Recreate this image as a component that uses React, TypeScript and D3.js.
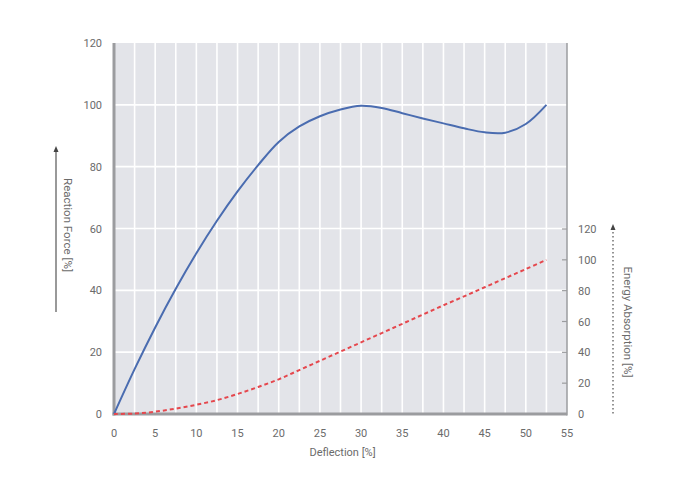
import React, { useEffect, useRef } from 'react';
import * as d3 from 'd3';

// Deflection [%] sample points
const deflection = [0, 2.5, 5, 7.5, 10, 12.5, 15, 17.5, 20, 22.5, 25, 27.5, 30, 32.5, 35, 37.5, 40, 42.5, 45, 47.5, 50, 52.5];
// Reaction Force [%] (left axis)
const reactionForce = [0, 14.5, 28, 40.5, 52, 62.5, 72, 80.5, 88, 93, 96.3, 98.5, 99.7, 99, 97.3, 95.6, 94, 92.4, 91.1, 91, 93.8, 100];
// Energy Absorption [%] (right axis)
const energyAbsorption = [0, 0.3, 1.5, 3.5, 6, 9, 13, 17.5, 22.5, 28.5, 34.5, 40.5, 46.5, 52.5, 58.5, 64.5, 70.5, 76.3, 82.2, 88.1, 94, 100];

const xTicks = [0, 5, 10, 15, 20, 25, 30, 35, 40, 45, 50, 55];
const yLeftTicks = [0, 20, 40, 60, 80, 100, 120];
const yRightTicks = [0, 20, 40, 60, 80, 100, 120];
const xGrid = [2.5, 5, 7.5, 10, 12.5, 15, 17.5, 20, 22.5, 25, 27.5, 30, 32.5, 35, 37.5, 40, 42.5, 45, 47.5, 50, 52.5];

const W = 692;
const H = 503;
const MARGIN = { top: 43, right: 125, bottom: 89, left: 114 };
const FONT = '"Liberation Sans Narrow", "Roboto", sans-serif';

const App = () => {
    const ref = useRef<SVGSVGElement>(null);

    useEffect(() => {
        const svg = d3.select(ref.current);
        svg.selectAll('*').remove();

        const x = d3.scaleLinear().domain([0, 55]).range([MARGIN.left, W - MARGIN.right]);
        const yL = d3.scaleLinear().domain([0, 120]).range([H - MARGIN.bottom, MARGIN.top]);
        const yR = d3.scaleLinear().domain([0, 120]).range([H - MARGIN.bottom, 229]);

        const x0 = x(0), x1 = x(55), y0 = yL(0), y1 = yL(120);

        // plot background
        svg.append('rect')
            .attr('x', x0).attr('y', y1)
            .attr('width', x1 - x0).attr('height', y0 - y1)
            .attr('fill', '#e3e4e9');

        // vertical grid
        svg.append('g').selectAll('line').data(xGrid).enter().append('line')
            .attr('x1', d => x(d)).attr('x2', d => x(d))
            .attr('y1', y1).attr('y2', y0)
            .attr('stroke', '#ffffff').attr('stroke-width', 1.6);

        // horizontal grid
        svg.append('g').selectAll('line').data(yLeftTicks.filter(d => d > 0 && d < 120)).enter().append('line')
            .attr('x1', x0).attr('x2', x1)
            .attr('y1', d => yL(d)).attr('y2', d => yL(d))
            .attr('stroke', '#ffffff').attr('stroke-width', 1.6);

        // axes lines
        svg.append('line').attr('x1', x0).attr('x2', x0).attr('y1', y1).attr('y2', y0 + 1.5)
            .attr('stroke', '#9b9c9f').attr('stroke-width', 3);
        svg.append('line').attr('x1', x0 - 1.5).attr('x2', x1).attr('y1', y0).attr('y2', y0)
            .attr('stroke', '#9b9c9f').attr('stroke-width', 3);
        svg.append('line').attr('x1', x1).attr('x2', x1).attr('y1', y1).attr('y2', y0 + 1.5)
            .attr('stroke', '#9b9c9f').attr('stroke-width', 1.5);

        // right axis inward ticks
        svg.append('g').selectAll('line').data(yRightTicks.filter(d => d > 0)).enter().append('line')
            .attr('x1', x1 - 5).attr('x2', x1)
            .attr('y1', d => yR(d)).attr('y2', d => yR(d))
            .attr('stroke', '#9b9c9f').attr('stroke-width', 1.2);

        const label = (sel: d3.Selection<SVGTextElement, any, any, any>) =>
            sel.attr('font-family', FONT).attr('font-size', 11).attr('fill', '#6b6b6b');

        // x tick labels
        svg.append('g').selectAll('text').data(xTicks).enter().append('text')
            .attr('x', d => x(d)).attr('y', y0 + 23)
            .attr('text-anchor', 'middle')
            .text(d => d)
            .call(label);

        // left tick labels
        svg.append('g').selectAll('text').data(yLeftTicks).enter().append('text')
            .attr('x', x0 - 12).attr('y', d => yL(d) + 4)
            .attr('text-anchor', 'end')
            .text(d => d)
            .call(label);

        // right tick labels
        svg.append('g').selectAll('text').data(yRightTicks).enter().append('text')
            .attr('x', x1 + 11).attr('y', d => yR(d) + 4)
            .attr('text-anchor', 'start')
            .text(d => d)
            .call(label);

        // axis titles
        svg.append('text')
            .attr('x', (x0 + x1) / 2 + 2).attr('y', y0 + 42)
            .attr('text-anchor', 'middle')
            .text('Deflection [%]')
            .call(label);

        svg.append('text')
            .attr('transform', 'translate(64,' + 225 + ') rotate(90)')
            .attr('text-anchor', 'middle')
            .text('Reaction  Force [%]')
            .call(label)
            .attr('font-size', 11.5);

        svg.append('text')
            .attr('transform', 'translate(624,' + 322 + ') rotate(90)')
            .attr('text-anchor', 'middle')
            .text('Energy Absorption [%]')
            .call(label)
            .attr('font-size', 11.5);

        // arrow beside left title
        svg.append('line').attr('x1', 56).attr('x2', 56).attr('y1', 150).attr('y2', 312)
            .attr('stroke', '#555').attr('stroke-width', 1.2);
        svg.append('path').attr('d', 'M56,146 L53.5,152 L58.5,152 Z').attr('fill', '#444');

        // dotted arrow beside right title
        svg.append('line').attr('x1', 613).attr('x2', 613).attr('y1', 232).attr('y2', 416)
            .attr('stroke', '#666').attr('stroke-width', 1.4).attr('stroke-dasharray', '1.5,2.5');
        svg.append('path').attr('d', 'M613,224 L610.5,230 L615.5,230 Z').attr('fill', '#444');

        // series
        const forceLine = d3.line<number>()
            .x((_, i) => x(deflection[i]))
            .y(d => yL(d))
            .curve(d3.curveCatmullRom.alpha(0.5));
        svg.append('path')
            .datum(reactionForce)
            .attr('fill', 'none')
            .attr('stroke', '#4a6cb0')
            .attr('stroke-width', 2)
            .attr('d', forceLine);

        const energyLine = d3.line<number>()
            .x((_, i) => x(deflection[i]))
            .y(d => yR(d))
            .curve(d3.curveCatmullRom.alpha(0.5));
        svg.append('path')
            .datum(energyAbsorption)
            .attr('fill', 'none')
            .attr('stroke', '#e5474d')
            .attr('stroke-width', 2)
            .attr('stroke-dasharray', '4,3')
            .attr('d', energyLine);
    }, []);

    return (
        <svg ref={ref} width={W} height={H}
            style={{ position: 'absolute', left: 0, top: 0, background: '#fff' }} />
    );
};

export default App;
